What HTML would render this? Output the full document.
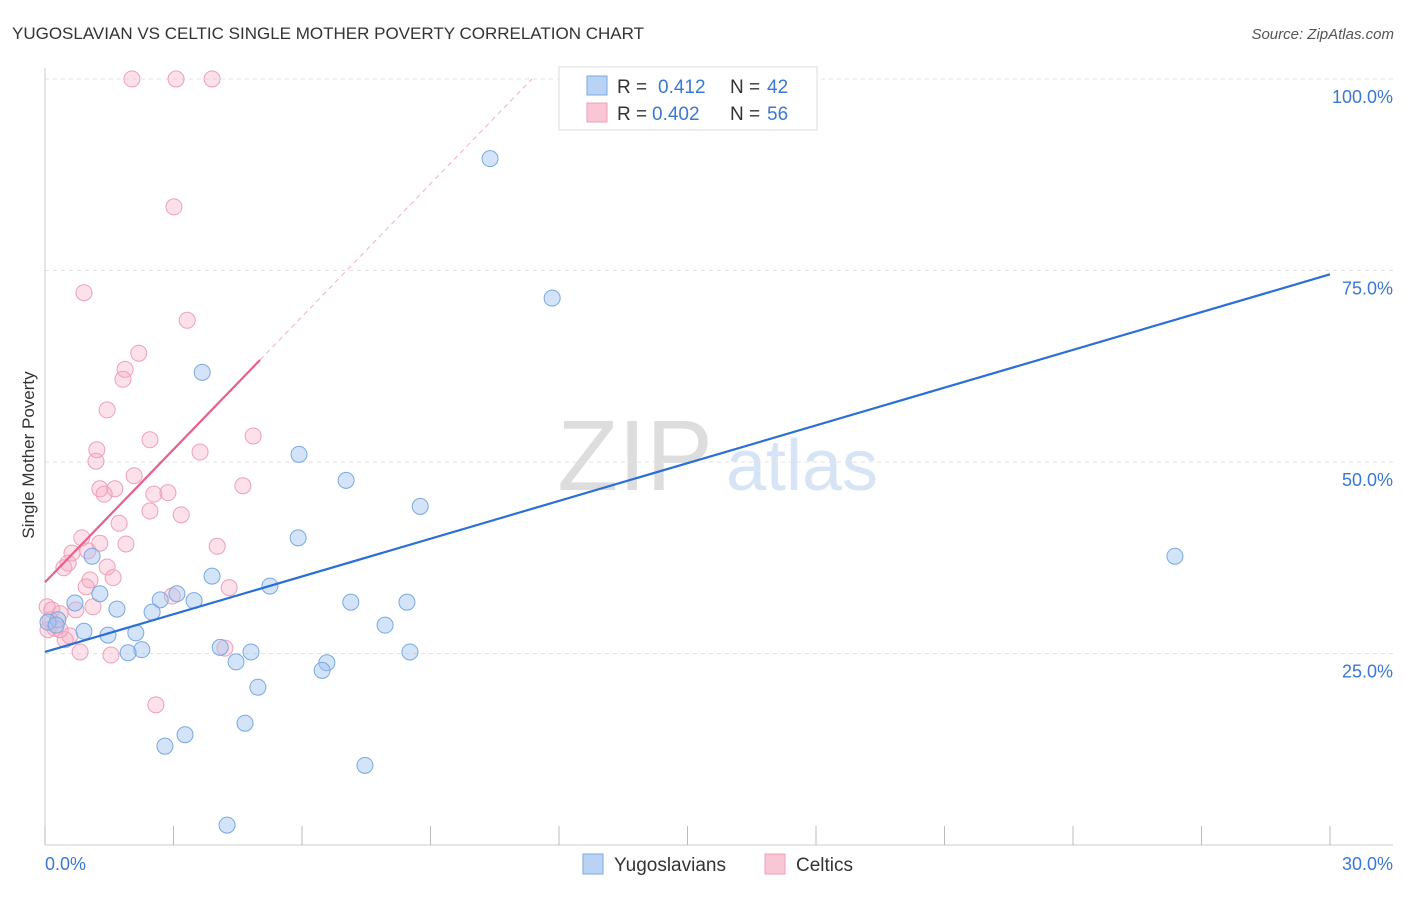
<!DOCTYPE html>
<html><head><meta charset="utf-8"><style>
body{margin:0;background:#fff;font-family:"Liberation Sans",sans-serif;}
svg text{font-family:"Liberation Sans",sans-serif;}
</style></head><body>
<svg id="chart" width="1406" height="892" xmlns="http://www.w3.org/2000/svg">
<text x="12" y="39" font-size="17" fill="#333">YUGOSLAVIAN VS CELTIC SINGLE MOTHER POVERTY CORRELATION CHART</text>
<text x="1394" y="39" font-size="15" fill="#555" font-style="italic" text-anchor="end">Source: ZipAtlas.com</text>
<g>
<text x="635" y="490" font-size="100" fill="#ddd" text-anchor="middle" font-family="Liberation Serif">ZIP</text>
<text x="802" y="490" font-size="72" fill="#d7e4f5" text-anchor="middle">atlas</text>
</g>
<g id="grid"></g>
<g id="axes"></g>
<g id="marks"></g>
<text transform="translate(34,455) rotate(-90)" font-size="17" fill="#333" text-anchor="middle">Single Mother Poverty</text>
<g>
<rect x="559" y="67" width="258" height="63" fill="#fff" stroke="#ddd"/>
<rect x="587" y="76" width="20" height="19" fill="#b9d3f5" stroke="#7aa8e0"/>
<rect x="587" y="103" width="20" height="19" fill="#f9c6d6" stroke="#eea0b8"/>
<text x="617" y="93" font-size="19" fill="#333">R =</text>
<text x="658" y="93" font-size="19" fill="#3a78d4">0.412</text>
<text x="730" y="93" font-size="19" fill="#333">N =</text>
<text x="767" y="93" font-size="19" fill="#3a78d4">42</text>
<text x="617" y="120" font-size="19" fill="#333">R =</text>
<text x="652" y="120" font-size="19" fill="#3a78d4">0.402</text>
<text x="730" y="120" font-size="19" fill="#333">N =</text>
<text x="767" y="120" font-size="19" fill="#3a78d4">56</text>
</g>
<g>
<rect x="583" y="854" width="20" height="20" fill="#b9d3f5" stroke="#7aa8e0"/>
<text x="614" y="871" font-size="19" fill="#333">Yugoslavians</text>
<rect x="765" y="854" width="20" height="20" fill="#f9c6d6" stroke="#eea0b8"/>
<text x="796" y="871" font-size="19" fill="#333">Celtics</text>
</g>
</svg>
<script>
const yTicks=[25,50,75,100];
const yTickLabels=["25.0%","50.0%","75.0%","100.0%"];
const xTicks=[0,3,6,9,12,15,18,21,24,27,30];
const blueX=[10.39,11.84,3.67,5.93,7.03,8.76,5.91,1.10,26.38,3.90,5.25,1.28,3.08,2.69,3.48,7.14,8.45,0.70,1.68,2.50,0.30,0.07,0.26,7.94,0.91,1.47,2.12,4.09,2.26,1.94,4.81,8.52,4.46,6.58,6.47,4.97,4.67,3.27,2.80,7.47,4.25,13.52];
const blueY=[89.6,71.4,61.7,51.0,47.6,44.2,40.1,37.7,37.7,35.1,33.8,32.8,32.8,32.0,31.9,31.7,31.7,31.6,30.8,30.4,29.4,29.1,28.7,28.7,27.9,27.4,27.7,25.8,25.5,25.1,25.2,25.2,23.9,23.8,22.8,20.6,15.9,14.4,12.9,10.4,2.6,100];
const pinkX=[2.03,3.06,3.90,3.01,0.91,3.32,2.19,1.87,1.82,1.45,2.45,1.21,1.19,3.62,4.86,2.08,1.28,1.63,1.38,4.62,2.87,2.54,2.45,3.18,1.73,0.86,1.89,4.02,1.28,0.63,1.00,0.54,0.44,1.45,1.05,1.59,0.96,4.30,2.97,1.12,0.72,0.05,0.16,0.35,0.23,0.07,0.58,0.47,4.20,0.82,1.54,2.59,0.35,0.12];
const pinkY=[100,100,100,83.3,72.1,68.5,64.2,62.1,60.8,56.8,52.9,51.6,50.1,51.3,53.4,48.2,46.5,46.5,45.8,46.9,46.0,45.8,43.6,43.1,42.0,40.1,39.3,39.0,39.4,38.1,38.4,36.8,36.2,36.3,34.6,34.9,33.7,33.6,32.5,31.1,30.7,31.1,30.7,30.2,28.3,28.1,27.3,26.8,25.7,25.2,24.8,18.3,28.1,29.4];
const blueLine=[25.2,74.5];
const pinkLine=[34.3,5.78];
const pinkSolidEnd=5.02;

const NS="http://www.w3.org/2000/svg";
const sx=v=>45+v*(1285/30);
const sy=v=>845-v*7.66;
function mk(tag,attrs,parent){const e=document.createElementNS(NS,tag);for(const k in attrs)e.setAttribute(k,attrs[k]);parent.appendChild(e);return e;}
const grid=document.getElementById('grid'),axes=document.getElementById('axes'),marks=document.getElementById('marks');
yTicks.forEach((t,i)=>{
 const l=mk('line',{x1:45,x2:1393,y1:sy(t),y2:sy(t),stroke:'#e2e2e2','stroke-dasharray':'4,4'},grid);
 
 
 const tx=mk('text',{x:1393,y:sy(t)+24,'font-size':18,fill:'#3a78d4','text-anchor':'end'},axes);
 tx.textContent=yTickLabels[i];
 
 
});
const ax=mk('line',{x1:45,x2:1393,y1:845,y2:845,stroke:'#ccc'},axes);


const ay=mk('line',{x1:45,x2:45,y1:68,y2:845,stroke:'#ccc'},axes);


xTicks.forEach(t=>{
 const l=mk('line',{x1:sx(t),x2:sx(t),y1:826,y2:845,stroke:'#bbb'},axes);
 
 
});
const x0=mk('text',{x:45,y:870,'font-size':18,fill:'#3a78d4'},axes);x0.textContent='0.0%';


const x1=mk('text',{x:1393,y:870,'font-size':18,fill:'#3a78d4','text-anchor':'end'},axes);x1.textContent='30.0%';



pinkX.forEach((x,i)=>{
 const c=mk('circle',{cx:sx(x),cy:sy(pinkY[i]),r:8,fill:'rgba(245,170,195,0.35)',stroke:'#eea0b8','stroke-width':1},marks);
 
 
});
blueX.forEach((x,i)=>{
 const c=mk('circle',{cx:sx(x),cy:sy(blueY[i]),r:8,fill:'rgba(160,196,240,0.45)',stroke:'#7aa8e0','stroke-width':1},marks);
 
 
});
const bl=mk('line',{x1:sx(0),y1:sy(blueLine[0]),x2:sx(30),y2:sy(blueLine[1]),stroke:'#2a6fd6','stroke-width':2.2},marks);


const pEnd=(100-pinkLine[0])/pinkLine[1];
const pd=mk('line',{x1:sx(pinkSolidEnd),y1:sy(pinkLine[0]+pinkLine[1]*pinkSolidEnd),x2:sx(pEnd),y2:sy(100),stroke:'#f0b0c4','stroke-width':1,'stroke-dasharray':'5,4'},marks);


const pl=mk('line',{x1:sx(0),y1:sy(pinkLine[0]),x2:sx(pinkSolidEnd),y2:sy(pinkLine[0]+pinkLine[1]*pinkSolidEnd),stroke:'#e8608a','stroke-width':2.2},marks);


</script>
</body></html>
